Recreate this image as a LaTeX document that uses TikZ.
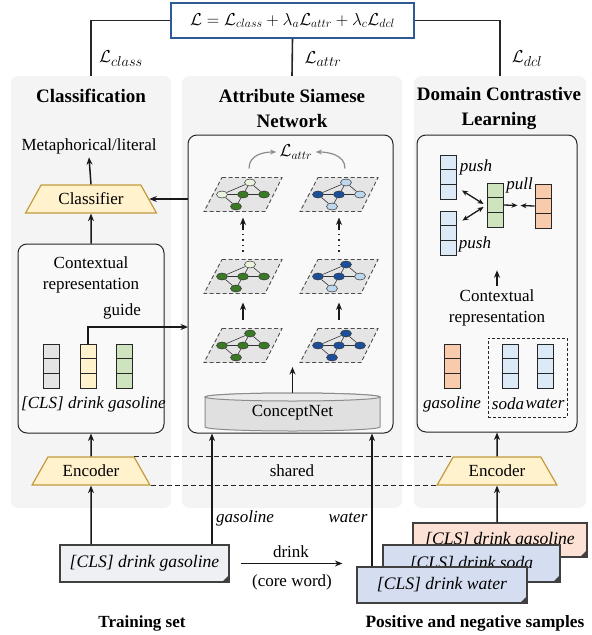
\documentclass[tikz,border=0pt]{standalone}
\usepackage{fontspec}
\setmainfont{Liberation Serif}
\usetikzlibrary{positioning,calc,arrows.meta,shapes.geometric}

\definecolor{panelgray}{HTML}{F4F4F4}
\definecolor{innergray}{HTML}{F9F9F9}
\definecolor{lossblue}{HTML}{2F5A96}
\definecolor{trapfill}{HTML}{FFF2CC}
\definecolor{trapdraw}{HTML}{C49A3C}
\definecolor{vgray}{HTML}{E4E4E4}
\definecolor{vyel}{HTML}{FFF2CC}
\definecolor{vgreen}{HTML}{CDE4BE}
\definecolor{vblue}{HTML}{DCEAF7}
\definecolor{vorange}{HTML}{F8CBAD}
\definecolor{gdark}{HTML}{3A7A24}
\definecolor{glight}{HTML}{EAF3DE}
\definecolor{bdark}{HTML}{1D4E9A}
\definecolor{blight}{HTML}{BDD7EE}
\definecolor{docgray}{HTML}{EEF0F4}
\definecolor{docblue}{HTML}{D5DEF0}
\definecolor{docpeach}{HTML}{FBE2D5}

\tikzset{font=\fontsize{17}{21}\selectfont}
\tikzset{
	panel/.style={fill=panelgray, rounded corners=7pt, inner sep=0pt},
	inbox/.style={draw=black!85, line width=1pt, rounded corners=9pt, fill=innergray, inner sep=0pt},
	title/.style={font=\fontsize{19}{25}\selectfont\bfseries, align=center},
	trap/.style={trapezium, trapezium stretches=true, fill=trapfill, draw=trapdraw, line width=1.2pt, inner sep=0pt},
	arr/.style={-{Stealth[length=7.5pt,width=6pt]}, line width=1.5pt, black!90},
	tline/.style={line width=1.6pt, black!85},
	itl/.style={font=\fontsize{17}{21}\selectfont\itshape},
	vec/.style={draw=black!85, line width=0.9pt, minimum width=16pt, minimum height=44pt, inner sep=0pt,
		path picture={
			\draw[black!85, line width=0.9pt] ([yshift=-14.67pt]path picture bounding box.north west) -- ([yshift=-14.67pt]path picture bounding box.north east);
			\draw[black!85, line width=0.9pt] ([yshift=-29.33pt]path picture bounding box.north west) -- ([yshift=-29.33pt]path picture bounding box.north east);
		}},
	docbox/.style={draw=black!75, line width=1.2pt, inner sep=0pt, font=\fontsize{17.6}{21}\selectfont\itshape,
		path picture={\fill[black!75] (path picture bounding box.south east) -- ++(-7pt,0pt) -- ++(7pt,7pt) -- cycle;}},
	gn/.style={ellipse, draw=black!80, line width=0.5pt, minimum width=11pt, minimum height=7pt, inner sep=0pt},
	plane/.style={draw=black!70, line width=0.9pt, dash pattern=on 4pt off 2.5pt},
	pics/kg/.style args={#1/#2/#3/#4/#5}{code={
		\fill[black!10] (-21,-17) -- (39,-17) -- (22,17) -- (-39,17) -- cycle;
		\draw[plane] (-21,-17) -- (39,-17) -- (22,17) -- (-39,17) -- cycle;
		\node[gn, fill=#1] (-t) at (7,-12) {};
		\node[gn, fill=#2] (-l) at (-21,0) {};
		\node[gn, fill=#3] (-c) at (0,0) {};
		\node[gn, fill=#4] (-r) at (21,0) {};
		\node[gn, fill=#5] (-b) at (-7,12) {};
		\draw[black!80, line width=0.6pt] (-l) -- (-t) -- (-r) -- (-c) -- (-l) -- (-b) -- (-c) -- (-t);
		\coordinate (-n) at (0,-19);
		\coordinate (-s) at (0,19);
		\coordinate (-a) at (6,-26);
	}},
}

\begin{document}
\begin{tikzpicture}[x=1pt,y=-1pt]
	\useasboundingbox (0,0) rectangle (592,635);

	% three panels
	\node[panel, minimum width=160pt, minimum height=432pt] (pcls) at (91,292) {};
	\node[panel, minimum width=220pt, minimum height=432pt] (pasn) at (292,292) {};
	\node[panel, minimum width=172pt, minimum height=432pt] (pdcl) at (500,292) {};

	% total loss on top
	\node[draw=lossblue, line width=1.1pt, fill=white, minimum width=243pt, minimum height=35pt, inner sep=0pt,
		font=\fontsize{16.5}{20}\selectfont] (loss) at (292.5,20.5)
		{$\mathcal{L} = \mathcal{L}_{class} + \lambda_a\mathcal{L}_{attr} + \lambda_c\mathcal{L}_{dcl}$};
	\draw[tline] (loss.west) -| (pcls.north);
	\draw[tline] (loss.south) -- (pasn.north);
	\draw[tline] (loss.east) -| (pdcl.north);
	\node[font=\fontsize{19}{21}\selectfont] (lcls) at (121,59) {$\mathcal{L}_{class}$};
	\node[font=\fontsize{19}{21}\selectfont] (lattr) at (323,59) {$\mathcal{L}_{attr}$};
	\node[font=\fontsize{19}{21}\selectfont] (ldcl) at (527,59) {$\mathcal{L}_{dcl}$};

	\node[title] (tcls) at (91,96) {Classification};
	\node[title] (tasn) at (292,108.5) {Attribute Siamese\\Network};
	\node[title] (tdcl) at (499,108.5) {Domain Contrastive\\Learning};

	% classification
	\node (meta) at (89,146) {Metaphorical/literal};
	\node[trap, minimum width=132pt, minimum height=28pt, trapezium angle=50] (cls) at (91,199) {Classifier};
	\node[inbox, minimum width=146pt, minimum height=189pt] (ctx) at (91,338.5) {};
	\node[align=center] (ctxt) at (91,274.5) {Contextual\\representation};
	\node (guide) at (122,311) {guide};
	\node[vec, fill=vgray] (vcls) at (51,366) {};
	\node[vec, fill=vyel] (vdrink) at (88,366) {};
	\node[vec, fill=vgreen] (vgas) at (124,366) {};
	\node[itl] (ltok) at (93.5,404) {[CLS] drink gasoline};
	\draw[arr] (cls.north) -- (meta.south);
	\draw[arr] (ctx.north) -- (cls.south);

	% attribute siamese network
	\node[inbox, minimum width=205pt, minimum height=298pt] (asn) at (290.5,284) {};
	\coordinate (gd) at (188,327);
	\draw[arr] (vdrink.north) |- (gd);
	\draw[arr] (asn.west |- cls.east) -- (cls.east);

	\pic (gl1) at (243,345.5) {kg=gdark/gdark/gdark/gdark/gdark};
	\pic (gl2) at (243,276.5) {kg=glight/gdark/gdark/gdark/gdark};
	\pic (gl3) at (243,194.5) {kg=glight/glight/gdark/gdark/gdark};
	\pic (gr1) at (339,345.5) {kg=bdark/bdark/bdark/bdark/bdark};
	\pic (gr2) at (339,276.5) {kg=bdark/bdark/bdark/blight/blight};
	\pic (gr3) at (339,194.5) {kg=blight/bdark/bdark/blight/blight};

	\draw[arr, shorten <=7pt, shorten >=7pt] (gl1-n) -- (gl2-s);
	\draw[arr, shorten <=7pt, shorten >=7pt] (gr1-n) -- (gr2-s);
	\draw[black!85, line width=1.4pt, dash pattern=on 1.5pt off 4pt] (gl2-n) ++(0,-6) -- ++(0,-18);
	\draw[black!85, line width=1.4pt, dash pattern=on 1.5pt off 4pt] (gr2-n) ++(0,-6) -- ++(0,-18);
	\draw[arr, shorten >=4pt] (gl2-n) ++(0,-28) -- (gl3-s);
	\draw[arr, shorten >=4pt] (gr2-n) ++(0,-28) -- (gr3-s);

	\node[font=\fontsize{18}{21}\selectfont] (latt) at (296,152) {$\mathcal{L}_{attr}$};
	\draw[-{Stealth[length=6pt,width=5pt]}, line width=1.2pt, black!45] (gl3-a) .. controls +(0,-14) and +(-12,0) .. (latt.west);
	\draw[-{Stealth[length=6pt,width=5pt]}, line width=1.2pt, black!45] (gr3-a) .. controls +(0,-14) and +(12,0) .. (latt.east);

	% conceptnet cylinder
	\filldraw[fill=black!12, draw=black!45, line width=1pt] (205,397) -- (205,427)
		arc[start angle=180, end angle=0, x radius=87.5, y radius=4] -- (380,397)
		arc[start angle=0, end angle=-180, x radius=87.5, y radius=4] -- cycle;
	\filldraw[fill=black!8, draw=black!45, line width=1pt] (292.5,397) ellipse[x radius=87.5, y radius=4];
	\node[minimum width=175pt, minimum height=40pt, inner sep=0pt] (cnet) at (292.5,413) {ConceptNet};
	\coordinate (cin) at (292.5,367);
	\draw[arr] (cnet.north) -- (cin);

	% domain contrastive learning
	\node[inbox, minimum width=160pt, minimum height=297pt] (dcl) at (497,283.5) {};
	\node[vec, fill=vblue] (p1) at (448.5,177) {};
	\node[vec, fill=vblue] (p2) at (448,233) {};
	\node[vec, fill=vgreen] (anc) at (495,205) {};
	\node[vec, fill=vorange] (pos) at (543,206) {};
	\node[itl] (push1) at (476,167) {push};
	\node[itl] (push2) at (475,244) {push};
	\node[itl] (pull) at (519.5,185) {pull};
	\draw[{Stealth[length=6pt,width=5pt]}-{Stealth[length=6pt,width=5pt]}, line width=1.3pt, black!90]
		($(p1.south east)+(5,-9)$) -- ($(anc.west)+(-3,-1)$);
	\draw[{Stealth[length=6pt,width=5pt]}-{Stealth[length=6pt,width=5pt]}, line width=1.3pt, black!90]
		($(p2.north east)+(6,10)$) -- ($(anc.west)+(-3,2)$);
	\coordinate (pm) at ($(anc.east)!0.5!(pos.west)$);
	\draw[-{Stealth[length=6pt,width=5pt]}, line width=1.3pt, black!90, shorten >=1.5pt] (anc.east) -- (pm);
	\draw[-{Stealth[length=6pt,width=5pt]}, line width=1.3pt, black!90, shorten >=1.5pt] (pos.west) -- (pm);

	\node[align=center] (ctx2) at (497,308) {Contextual\\representation};
	\draw[arr] (ctx2.north) -- ++(0,-16);
	\node[vec, fill=vorange] (ng) at (452,366) {};
	\node[vec, fill=vblue] (ns) at (510,366) {};
	\node[vec, fill=vblue] (nw) at (545,366) {};
	\node[draw=black!85, line width=0.9pt, dash pattern=on 3pt off 2pt, minimum width=79pt, minimum height=79pt] (negbox) at (527.5,377.5) {};
	\node[itl] at (452,404) {gasoline};
	\node[itl] at (508,404) {soda};
	\node[itl] at (545,404) {water};

	% shared encoders
	\node[trap, minimum width=118pt, minimum height=28pt, trapezium angle=49] (enc1) at (91,471) {Encoder};
	\node[trap, minimum width=120pt, minimum height=28pt, trapezium angle=49] (enc2) at (497,471) {Encoder};
	\draw[black!85, line width=1pt, dash pattern=on 5pt off 3pt] (enc1.top right corner) -- (enc2.top left corner);
	\draw[black!85, line width=1pt, dash pattern=on 5pt off 3pt] (enc1.bottom right corner) -- (enc2.bottom left corner);
	\node (shared) at (292,471) {shared};
	\draw[arr] (enc1.north) -- (ctx.south);
	\draw[arr] (enc2.north) -- (dcl.south);

	% input sentences
	\node[docbox, fill=docgray, minimum width=169pt, minimum height=37pt] (train) at (144.5,563.5) {[CLS] drink gasoline};
	\node[docbox, fill=docpeach, minimum width=174pt, minimum height=34pt] (dgas) at (500,540) {[CLS] drink gasoline};
	\node[docbox, fill=docblue, minimum width=177pt, minimum height=37pt] (dsoda) at (471.5,563.5) {[CLS] drink soda};
	\node[docbox, fill=docblue, minimum width=170pt, minimum height=36pt] (dwat) at (442,585) {[CLS] drink water};

	\draw[arr] (train.north -| enc1) -- (enc1.south);
	\draw[arr] ([xshift=67.5pt]train.north) -- ([xshift=67.5pt]train.north |- asn.south);
	\node[itl] (wgas) at (245,518) {gasoline};
	\draw[arr] ([xshift=-70pt]dwat.north) -- ([xshift=-70pt]dwat.north |- asn.south);
	\node[itl] (wwat) at (348,518) {water};
	\draw[arr] (dgas.north -| enc2) -- (enc2.south);

	\draw[arr] ([xshift=11pt]train.east) -- ([xshift=-14pt]dwat.west |- train.east);
	\node (core) at (291,552) {drink};
	\node (corew) at (292,582) {(core word)};

	\node[font=\fontsize{17}{21}\selectfont\bfseries] (ltrain) at (142,623) {Training set};
	\node[font=\fontsize{17.3}{21}\selectfont\bfseries] (lsamp) at (475,623) {Positive and negative samples};
\end{tikzpicture}
\end{document}
